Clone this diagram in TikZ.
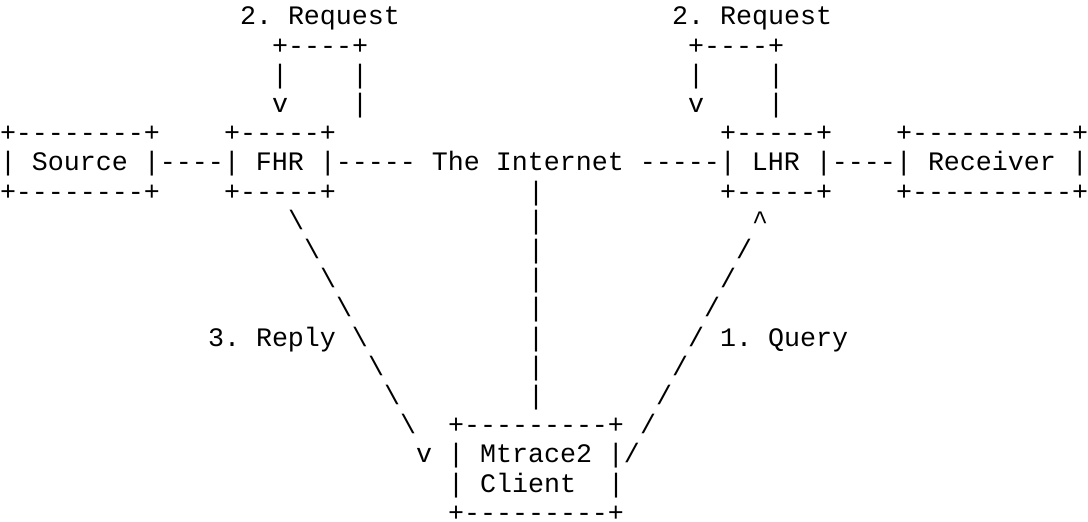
\documentclass[tikz,border=0pt]{standalone}
\usepackage{fontspec}
\setmonofont{Liberation Mono}
\newcommand{\bsl}{\textbackslash}
\newcommand{\crt}{\textasciicircum}
\tikzset{
  asc/.style={anchor=base west, inner sep=0pt, outer sep=0pt,
    font=\ttfamily\fontsize{13.333pt}{14.6pt}\selectfont, text=black}
}
% grid: column c -> x = 8c pt ; row r baseline -> y = -(12.5+14.6r) pt
\newcommand{\gx}[1]{\fpeval{8*(#1)}pt}
\newcommand{\gy}[1]{\fpeval{-(12.5+14.6*(#1))}pt}
\begin{document}
\begin{tikzpicture}
\useasboundingbox[fill=white] (0,0) rectangle (544pt,-261pt);
% row 0
\node[asc] (reqA) at (\gx{15},\gy{0}) {2. Request};
\node[asc] (reqB) at (\gx{42},\gy{0}) {2. Request};
% row 1
\node[asc] (loopAtop) at (\gx{17},\gy{1}) {+----+};
\node[asc] (loopBtop) at (\gx{43},\gy{1}) {+----+};
% row 2
\node[asc] (loopA2l) at (\gx{17},\gy{2}) {|};
\node[asc] (loopA2r) at (\gx{22},\gy{2}) {|};
\node[asc] (loopB2l) at (\gx{43},\gy{2}) {|};
\node[asc] (loopB2r) at (\gx{48},\gy{2}) {|};
% row 3
\node[asc] (loopA3l) at (\gx{17},\gy{3}) {v};
\node[asc] (loopA3r) at (\gx{22},\gy{3}) {|};
\node[asc] (loopB3l) at (\gx{43},\gy{3}) {v};
\node[asc] (loopB3r) at (\gx{48},\gy{3}) {|};
% row 4
\node[asc] (srcT) at (\gx{0},\gy{4}) {+--------+};
\node[asc] (fhrT) at (\gx{14},\gy{4}) {+-----+};
\node[asc] (lhrT) at (\gx{45},\gy{4}) {+-----+};
\node[asc] (rcvT) at (\gx{56},\gy{4}) {+----------+};
% row 5
\node[asc] (mainline) at (\gx{0},\gy{5}) {| Source |----| FHR |----- The Internet -----| LHR |----| Receiver |};
% row 6
\node[asc] (srcB) at (\gx{0},\gy{6}) {+--------+};
\node[asc] (fhrB) at (\gx{14},\gy{6}) {+-----+};
\node[asc] (net6) at (\gx{33},\gy{6}) {|};
\node[asc] (lhrB) at (\gx{45},\gy{6}) {+-----+};
\node[asc] (rcvB) at (\gx{56},\gy{6}) {+----------+};
% row 7
\node[asc] (rep7) at (\gx{18},\gy{7}) {\bsl};
\node[asc] (net7) at (\gx{33},\gy{7}) {|};
\node[asc] (qry7) at (\gx{47},\gy{7}) {\crt};
% row 8
\node[asc] (rep8) at (\gx{19},\gy{8}) {\bsl};
\node[asc] (net8) at (\gx{33},\gy{8}) {|};
\node[asc] (qry8) at (\gx{46},\gy{8}) {/};
% row 9
\node[asc] (rep9) at (\gx{20},\gy{9}) {\bsl};
\node[asc] (net9) at (\gx{33},\gy{9}) {|};
\node[asc] (qry9) at (\gx{45},\gy{9}) {/};
% row 10
\node[asc] (rep10) at (\gx{21},\gy{10}) {\bsl};
\node[asc] (net10) at (\gx{33},\gy{10}) {|};
\node[asc] (qry10) at (\gx{44},\gy{10}) {/};
% row 11
\node[asc] (rep11) at (\gx{13},\gy{11}) {3. Reply \bsl};
\node[asc] (net11) at (\gx{33},\gy{11}) {|};
\node[asc] (qry11) at (\gx{43},\gy{11}) {/ 1. Query};
% row 12
\node[asc] (rep12) at (\gx{23},\gy{12}) {\bsl};
\node[asc] (net12) at (\gx{33},\gy{12}) {|};
\node[asc] (qry12) at (\gx{42},\gy{12}) {/};
% row 13
\node[asc] (rep13) at (\gx{24},\gy{13}) {\bsl};
\node[asc] (net13) at (\gx{33},\gy{13}) {|};
\node[asc] (qry13) at (\gx{41},\gy{13}) {/};
% row 14
\node[asc] (rep14) at (\gx{25},\gy{14}) {\bsl};
\node[asc] (cliT) at (\gx{28},\gy{14}) {+---------+};
\node[asc] (qry14) at (\gx{40},\gy{14}) {/};
% row 15
\node[asc] (rep15) at (\gx{26},\gy{15}) {v};
\node[asc] (cli1) at (\gx{28},\gy{15}) {| Mtrace2 |/};
% row 16
\node[asc] (cli2l) at (\gx{28},\gy{16}) {|};
\node[asc] (cli2) at (\gx{30},\gy{16}) {Client};
\node[asc] (cli2r) at (\gx{38},\gy{16}) {|};
% row 17
\node[asc] (cliB) at (\gx{28},\gy{17}) {+---------+};
\end{tikzpicture}
\end{document}
